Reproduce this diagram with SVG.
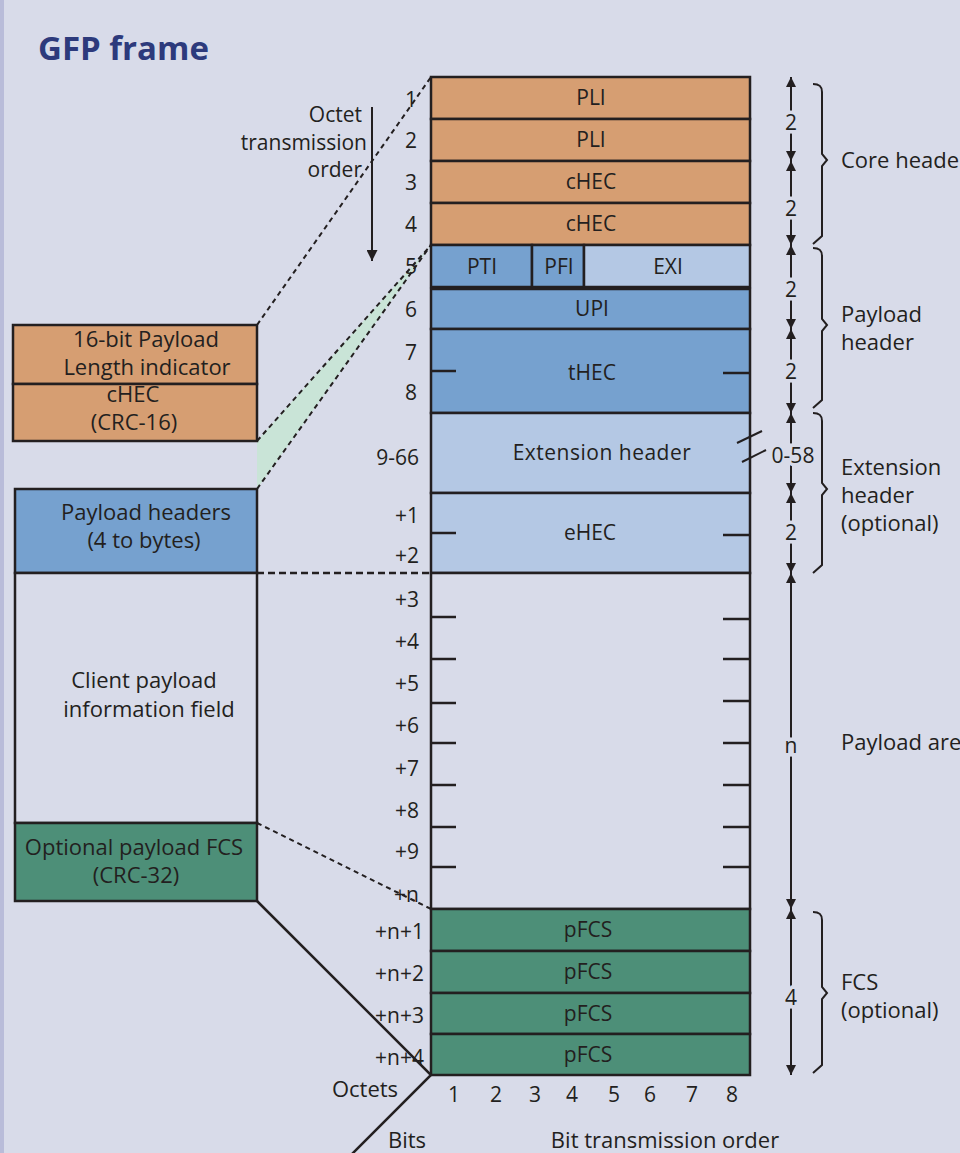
<svg xmlns="http://www.w3.org/2000/svg" width="960" height="1153" viewBox="0 0 960 1153">
<style>
text{font-family:"Open Sans","Noto Sans","Liberation Sans",sans-serif;fill:#231f20}
.t20{font-size:20px}
.t21{font-size:21px}
.t22{font-size:22px}
.c{text-anchor:middle}
.e{text-anchor:end}
.box{stroke:#231f20;stroke-width:2.5}
.or{fill:#d69e72}
.mb{fill:#76a1cf}
.lb{fill:#b4c8e4}
.gr{fill:#4d8f78}
.wh{fill:#d8dbe9}
.tick{stroke:#231f20;stroke-width:2.5}
.dash{fill:none;stroke:#231f20;stroke-width:2;stroke-dasharray:5 4}
.solid{fill:none;stroke:#231f20;stroke-width:2.5}
.dim{stroke:#231f20;stroke-width:2;marker-start:url(#ah);marker-end:url(#ah)}
.brace{fill:none;stroke:#231f20;stroke-width:2}
.halo{paint-order:stroke;stroke:#d8dbe9;stroke-width:7}
</style>
<defs>
<marker id="ah" viewBox="0 0 10 10" refX="10" refY="5" markerWidth="10" markerHeight="10" markerUnits="userSpaceOnUse" orient="auto-start-reverse"><path d="M0,0 L10,5 L0,10 z" fill="#231f20"/></marker>
<marker id="ah2" viewBox="0 0 10 10" refX="10" refY="5" markerWidth="11" markerHeight="11" markerUnits="userSpaceOnUse" orient="auto"><path d="M0,0 L10,5 L0,10 z" fill="#231f20"/></marker>
</defs>
<rect width="960" height="1153" fill="#d8dbe9"/>
<rect width="4" height="1153" fill="#b9bcd9"/>
<text x="38" y="60" style="font-size:33px;font-weight:bold;fill:#2d3a7c">GFP frame</text>

<!-- green fill between dashed lines -->
<polygon points="257,441 257,489 431,245" fill="#c9e4d7"/>

<!-- main frame rows -->
<g id="row-pli1"><rect class="box or" x="431" y="77" width="319" height="42"/><text class="t21 c" x="591" y="105">PLI</text></g>
<g id="row-pli2"><rect class="box or" x="431" y="119" width="319" height="42"/><text class="t21 c" x="591" y="147">PLI</text></g>
<g id="row-chec3"><rect class="box or" x="431" y="161" width="319" height="42"/><text class="t21 c" x="591" y="189">cHEC</text></g>
<g id="row-chec4"><rect class="box or" x="431" y="203" width="319" height="42"/><text class="t21 c" x="591" y="231">cHEC</text></g>
<g id="row-5">
<rect class="box mb" x="431" y="245" width="101" height="42"/><text class="t21 c" x="482" y="274">PTI</text>
<rect class="box mb" x="532" y="245" width="52" height="42"/><text class="t21 c" x="559" y="274">PFI</text>
<rect class="box lb" x="584" y="245" width="166" height="42"/><text class="t21 c" x="668" y="274">EXI</text>
</g>
<g id="row-upi"><rect class="box mb" x="431" y="289" width="319" height="40"/><text class="t21 c" x="592" y="316">UPI</text></g>
<g id="row-thec"><rect class="box mb" x="431" y="329" width="319" height="84"/><line class="tick" x1="431" y1="371" x2="456" y2="371"/><line class="tick" x1="723" y1="373" x2="750" y2="373"/><text class="t21 c" x="592" y="380">tHEC</text></g>
<g id="row-ext"><rect class="box lb" x="431" y="413" width="319" height="80"/><text class="t21 c" x="602" y="460" style="letter-spacing:0.5px">Extension header</text>
<line class="tick" x1="737" y1="443" x2="762" y2="431" style="stroke-width:2"/><line class="tick" x1="742" y1="462" x2="766" y2="450" style="stroke-width:2"/></g>
<g id="row-ehec"><rect class="box lb" x="431" y="493" width="319" height="80"/><line class="tick" x1="431" y1="533" x2="456" y2="533"/><line class="tick" x1="723" y1="535" x2="750" y2="535"/><text class="t21 c" x="590" y="540">eHEC</text></g>
<g id="row-payload"><rect class="box wh" x="431" y="573" width="319" height="336"/>
<g class="tick">
<line x1="431" y1="617" x2="456" y2="617"/><line x1="723" y1="619" x2="750" y2="619"/>
<line x1="431" y1="659" x2="456" y2="659"/><line x1="723" y1="659" x2="750" y2="659"/>
<line x1="431" y1="703" x2="456" y2="703"/><line x1="723" y1="701" x2="750" y2="701"/>
<line x1="431" y1="743" x2="456" y2="743"/><line x1="723" y1="743" x2="750" y2="743"/>
<line x1="431" y1="785" x2="456" y2="785"/><line x1="723" y1="785" x2="750" y2="785"/>
<line x1="431" y1="827" x2="456" y2="827"/><line x1="723" y1="827" x2="750" y2="827"/>
<line x1="431" y1="867" x2="456" y2="867"/><line x1="723" y1="867" x2="750" y2="867"/>
</g></g>
<g id="row-pfcs1"><rect class="box gr" x="431" y="909" width="319" height="42"/><text class="t21 c" x="588" y="937">pFCS</text></g>
<g id="row-pfcs2"><rect class="box gr" x="431" y="951" width="319" height="42"/><text class="t21 c" x="588" y="979">pFCS</text></g>
<g id="row-pfcs3"><rect class="box gr" x="431" y="993" width="319" height="41"/><text class="t21 c" x="588" y="1021">pFCS</text></g>
<g id="row-pfcs4"><rect class="box gr" x="431" y="1034" width="319" height="41"/><text class="t21 c" x="588" y="1062">pFCS</text></g>

<!-- left boxes -->
<g id="box-core">
<rect class="box or" x="13" y="325" width="244" height="59"/>
<rect class="box or" x="13" y="384" width="244" height="57"/>
<text class="t22 c" x="146" y="347">16-bit Payload</text>
<text class="t22 c" x="147" y="375">Length indicator</text>
<text class="t22 c" x="133" y="402">cHEC</text>
<text class="t22 c" x="134" y="430">(CRC-16)</text>
</g>
<g id="box-payload-headers"><rect class="box mb" x="15" y="489" width="242" height="84"/>
<text class="t22 c" x="146" y="520">Payload headers</text><text class="t22 c" x="144" y="548">(4 to bytes)</text></g>
<g id="box-client"><rect class="box wh" x="15" y="573" width="242" height="250"/>
<text class="t22 c" x="144" y="688">Client payload</text><text class="t22 c" x="149" y="717">information field</text></g>
<g id="box-fcs"><rect class="box gr" x="15" y="823" width="242" height="78"/>
<text class="t22 c" x="134" y="855">Optional payload FCS</text><text class="t22 c" x="136" y="883">(CRC-32)</text></g>

<!-- octet numbers -->
<g id="octet-labels" class="t21">
<text class="e" x="417" y="107">1</text>
<text class="e" x="417" y="148">2</text>
<text class="e" x="417" y="190">3</text>
<text class="e" x="417" y="232">4</text>
<text class="e" x="417" y="274">5</text>
<text class="e" x="417" y="317">6</text>
<text class="e" x="417" y="360">7</text>
<text class="e" x="417" y="400">8</text>
<text class="e" x="419" y="465">9-66</text>
<text class="e" x="419" y="523">+1</text>
<text class="e" x="419" y="563">+2</text>
<text class="e" x="419" y="607">+3</text>
<text class="e" x="419" y="649">+4</text>
<text class="e" x="419" y="691">+5</text>
<text class="e" x="419" y="733">+6</text>
<text class="e" x="419" y="776">+7</text>
<text class="e" x="419" y="818">+8</text>
<text class="e" x="419" y="859">+9</text>
<text class="e" x="419" y="902">+n</text>
<text class="e" x="424" y="939">+n+1</text>
<text class="e" x="424" y="981">+n+2</text>
<text class="e" x="424" y="1023">+n+3</text>
<text class="e" x="424" y="1065">+n+4</text>
</g>

<!-- bit numbers -->
<g id="bit-labels" class="t21">
<text class="c" x="454" y="1102">1</text>
<text class="c" x="496" y="1102">2</text>
<text class="c" x="535" y="1102">3</text>
<text class="c" x="572" y="1102">4</text>
<text class="c" x="614" y="1102">5</text>
<text class="c" x="650" y="1102">6</text>
<text class="c" x="692" y="1102">7</text>
<text class="c" x="732" y="1102">8</text>
<text class="c" x="365" y="1097" style="font-size:22px">Octets</text>
<text class="c" x="407" y="1148" style="font-size:22px">Bits</text>
<text class="c" x="665" y="1148" style="font-size:22px">Bit transmission order</text>
</g>

<!-- octet transmission order -->
<g id="octet-order">
<text class="t21 e" x="362" y="122">Octet</text>
<text class="t21 e" x="367" y="150">transmission</text>
<text class="t21 e" x="362" y="177">order</text>
<line x1="372" y1="107" x2="372" y2="261" stroke="#231f20" stroke-width="2" marker-end="url(#ah2)"/>
</g>

<!-- connectors -->
<g id="connectors">
<line class="dash" x1="257" y1="325" x2="431" y2="77"/>
<line class="dash" x1="257" y1="441" x2="431" y2="245"/>
<line class="dash" x1="257" y1="489" x2="431" y2="245"/>
<line class="dash" x1="257" y1="573" x2="431" y2="573" style="stroke-width:2.5;stroke-dasharray:7 4"/>
<line class="dash" x1="257" y1="823" x2="431" y2="909"/>
<polyline class="solid" points="257,901 431,1075 352,1154"/>
</g>

<!-- dimension arrows -->
<g id="dimensions">
<line class="dim" x1="791" y1="77" x2="791" y2="161"/>
<line class="dim" x1="791" y1="161" x2="791" y2="245"/>
<line class="dim" x1="791" y1="245" x2="791" y2="329"/>
<line class="dim" x1="791" y1="329" x2="791" y2="413"/>
<line class="dim" x1="791" y1="413" x2="791" y2="493"/>
<line class="dim" x1="791" y1="493" x2="791" y2="573"/>
<line class="dim" x1="791" y1="573" x2="791" y2="909"/>
<line class="dim" x1="791" y1="909" x2="791" y2="1075"/>
<text class="t21 c halo" x="791" y="130">2</text>
<text class="t21 c halo" x="791" y="216">2</text>
<text class="t21 c halo" x="791" y="297">2</text>
<text class="t21 c halo" x="791" y="379">2</text>
<text class="t21 c halo" x="793" y="463">0-58</text>
<text class="t21 c halo" x="791" y="540">2</text>
<text class="t21 c halo" x="791" y="753">n</text>
<text class="t21 c halo" x="791" y="1005">4</text>
</g>

<!-- braces and group labels -->
<g id="braces">
<path class="brace" d="M813,84 C819,84 822,86 822,92 L822,154 L827,160 L822,166 L822,236 L813,244"/>
<path class="brace" d="M813,248 C819,248 822,250 822,256 L822,319 L827,325 L822,331 L822,400 L813,408"/>
<path class="brace" d="M813,413 C819,413 822,415 822,421 L822,483 L827,489 L822,495 L822,565 L813,573"/>
<path class="brace" d="M813,912 C819,912 822,914 822,920 L822,987 L827,993 L822,999 L822,1065 L813,1073"/>
</g>
<g id="group-labels" class="t22">
<text x="841" y="168">Core header</text>
<text x="841" y="322">Payload</text>
<text x="841" y="350">header</text>
<text x="841" y="475">Extension</text>
<text x="841" y="503">header</text>
<text x="841" y="531">(optional)</text>
<text x="841" y="750">Payload area</text>
<text x="841" y="990">FCS</text>
<text x="841" y="1018">(optional)</text>
</g>
</svg>
